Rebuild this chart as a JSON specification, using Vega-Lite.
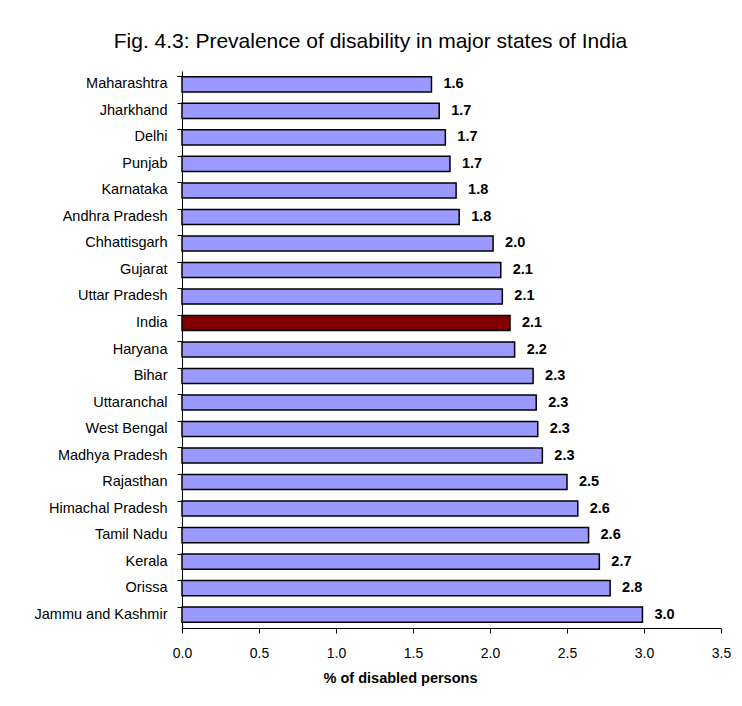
{
  "$schema": "https://vega.github.io/schema/vega-lite/v6.json",
  "width": 539,
  "height": 557,
  "autosize": {"type": "none"},
  "padding": {"left": 182, "top": 71, "right": 21, "bottom": 78},
  "background": "white",
  "title": {
    "text": "Fig. 4.3: Prevalence of disability in major states of  India",
    "font": "Liberation Sans",
    "fontSize": 21,
    "fontWeight": "normal",
    "color": "black",
    "anchor": "middle",
    "dx": -81,
    "offset": 19
  },
  "data": {
    "values": [
      {"state": "Maharashtra", "value": 1.62, "group": "state"},
      {"state": "Jharkhand", "value": 1.67, "group": "state"},
      {"state": "Delhi", "value": 1.71, "group": "state"},
      {"state": "Punjab", "value": 1.74, "group": "state"},
      {"state": "Karnataka", "value": 1.78, "group": "state"},
      {"state": "Andhra Pradesh", "value": 1.80, "group": "state"},
      {"state": "Chhattisgarh", "value": 2.02, "group": "state"},
      {"state": "Gujarat", "value": 2.07, "group": "state"},
      {"state": "Uttar Pradesh", "value": 2.08, "group": "state"},
      {"state": "India", "value": 2.13, "group": "india"},
      {"state": "Haryana", "value": 2.16, "group": "state"},
      {"state": "Bihar", "value": 2.28, "group": "state"},
      {"state": "Uttaranchal", "value": 2.30, "group": "state"},
      {"state": "West Bengal", "value": 2.31, "group": "state"},
      {"state": "Madhya Pradesh", "value": 2.34, "group": "state"},
      {"state": "Rajasthan", "value": 2.50, "group": "state"},
      {"state": "Himachal Pradesh", "value": 2.57, "group": "state"},
      {"state": "Tamil Nadu", "value": 2.64, "group": "state"},
      {"state": "Kerala", "value": 2.71, "group": "state"},
      {"state": "Orissa", "value": 2.78, "group": "state"},
      {"state": "Jammu and Kashmir", "value": 2.99, "group": "state"}
    ]
  },
  "encoding": {
    "y": {
      "field": "state",
      "type": "nominal",
      "sort": {"field": "value", "order": "ascending"},
      "scale": {"paddingInner": 0.43, "paddingOuter": 0.22},
      "axis": {
        "title": null,
        "bandPosition": 0,
        "labelFont": "Liberation Sans",
        "labelFontSize": 14.5,
        "labelColor": "black",
        "labelPadding": 10,
        "tickSize": 5,
        "tickColor": "black",
        "domainColor": "black",
        "labelBound": false,
        "labelLimit": 300
      }
    },
    "x": {
      "field": "value",
      "type": "quantitative",
      "scale": {"domain": [0, 3.5], "nice": false},
      "axis": {
        "title": "% of disabled persons",
        "titleFont": "Liberation Sans",
        "titleFontSize": 14.5,
        "titleFontWeight": "bold",
        "titleColor": "black",
        "titleX": 218,
        "titleY": 43,
        "titleAlign": "center",
        "values": [0, 0.5, 1, 1.5, 2, 2.5, 3, 3.5],
        "format": ".1f",
        "grid": false,
        "labelFont": "Liberation Sans",
        "labelFontSize": 14,
        "labelColor": "black",
        "labelPadding": 13,
        "tickSize": 5,
        "tickColor": "black",
        "domainColor": "black",
        "labelFlush": false
      }
    }
  },
  "layer": [
    {
      "mark": {"type": "bar", "stroke": "black", "strokeWidth": 1.5},
      "encoding": {
        "color": {
          "field": "group",
          "type": "nominal",
          "scale": {"domain": ["state", "india"], "range": ["#9999FF", "#800000"]},
          "legend": null
        }
      }
    },
    {
      "mark": {"type": "text", "align": "left", "dx": 12, "font": "Liberation Sans", "fontSize": 14.5, "fontWeight": "bold", "color": "black"},
      "encoding": {
        "text": {"field": "value", "type": "quantitative", "format": ".1f"}
      }
    }
  ],
  "config": {
    "view": {"stroke": null}
  }
}
